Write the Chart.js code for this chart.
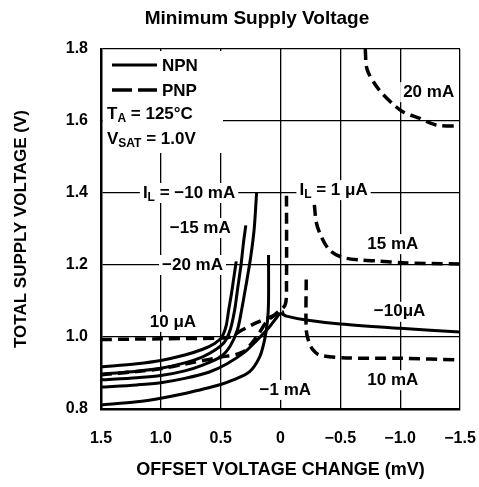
<!DOCTYPE html>
<html lang="en">
<head>
<meta charset="UTF-8">
<title>Minimum Supply Voltage</title>
<script src="https://cdn.jsdelivr.net/npm/chart.js"></script>
<style>
  html, body { margin: 0; padding: 0; background: #fff; }
  #wrap { width: 479px; height: 487px; }
</style>
</head>
<body>
<div id="wrap"><canvas id="supplyChart" width="479" height="487"></canvas></div>
<script>
const chartTitle = 'Minimum Supply Voltage';

// axis ticks
const xTickValues = [1.5, 1.0, 0.5, 0, -0.5, -1.0, -1.5];
const xTickLabels = ['1.5', '1.0', '0.5', '0', '\u22120.5', '\u22121.0', '\u22121.5'];
const yTickValues = [0.8, 1.0, 1.2, 1.4, 1.6, 1.8];
const yTickLabels = ['0.8', '1.0', '1.2', '1.4', '1.6', '1.8'];

// NPN curves (solid), [offset mV, supply V]
const npnMinus20mA = [[1.5,0.917],[1.2,0.926],[1.0,0.935],[0.8,0.95],[0.65,0.966],[0.55,0.982],[0.49,1.0],[0.455,1.03],[0.433,1.075],[0.41,1.12],[0.39,1.165],[0.37,1.21]];
const npnMinus15mA = [[1.5,0.897],[1.2,0.905],[1.0,0.913],[0.8,0.928],[0.65,0.945],[0.55,0.963],[0.47,0.985],[0.42,1.02],[0.383,1.075],[0.36,1.13],[0.33,1.2],[0.31,1.26],[0.29,1.31]];
const npnMinus10mA = [[1.5,0.881],[1.2,0.887],[1.0,0.893],[0.8,0.906],[0.65,0.922],[0.5,0.945],[0.42,0.975],[0.36,1.02],[0.325,1.075],[0.29,1.14],[0.25,1.22],[0.22,1.3],[0.2,1.4]];
const npnMinus1mA = [[1.5,0.811],[1.2,0.82],[1.0,0.83],[0.8,0.843],[0.675,0.853],[0.5,0.868],[0.4,0.88],[0.26,0.903],[0.175,0.944],[0.133,0.992],[0.108,1.047],[0.1,1.1],[0.1,1.228]];
const npnMinus10uA = [[1.5,0.861],[1.2,0.867],[1.0,0.873],[0.8,0.885],[0.6,0.902],[0.45,0.925],[0.3,0.958],[0.2,0.99],[0.1,1.025],[0.03,1.055],[0.0,1.065],[-0.05,1.058],[-0.2,1.048],[-0.5,1.036],[-1.0,1.024],[-1.5,1.014]];

// PNP curves (dashed)
const pnp1uA = [[1.5,0.895],[1.2,0.904],[1.0,0.912],[0.8,0.925],[0.5,0.944],[0.317,0.958],[0.2,1.0],[0.117,1.042],[0.02,1.07],[-0.04,1.09],[-0.05,1.15],[-0.05,1.4]];
const pnp10uA = [[1.5,0.993],[1.0,0.995],[0.5,0.997],[0.425,1.0],[0.317,1.02],[0.2,1.04],[0.05,1.06],[-0.03,1.07]];
const pnp10mA = [[-0.215,1.16],[-0.215,1.02],[-0.24,0.983],[-0.27,0.965],[-0.325,0.95],[-0.55,0.942],[-1.0,0.941],[-1.5,0.936]];
const pnp15mA = [[-0.283,1.367],[-0.3,1.317],[-0.342,1.278],[-0.408,1.242],[-0.508,1.222],[-0.658,1.214],[-0.825,1.211],[-1.017,1.206],[-1.5,1.203]];
const pnp20mA = [[-0.708,1.8],[-0.725,1.742],[-0.825,1.686],[-0.95,1.644],[-1.025,1.625],[-1.158,1.608],[-1.3,1.589],[-1.5,1.586]];

// curve labels: text pieces and where they sit (data units, left edge)
const curveNotes = [
    { parts: [['I'], ['L', 'sub'], [' = \u221210 mA']], x: 1.15, y: 1.4 },
    { parts: [['\u221215 mA']], x: 0.925, y: 1.303 },
    { parts: [['\u221220 mA']], x: 0.99, y: 1.2 },
    { parts: [['10 \u03bcA']], x: 1.092, y: 1.042 },
    { parts: [['\u22121 mA']], x: 0.175, y: 0.853 },
    { parts: [['I'], ['L', 'sub'], [' = 1 \u03bcA']], x: -0.158, y: 1.408 },
    { parts: [['20 mA']], x: -1.025, y: 1.68 },
    { parts: [['15 mA']], x: -0.725, y: 1.258 },
    { parts: [['\u221210\u03bcA']], x: -0.78, y: 1.07 },
    { parts: [['10 mA']], x: -0.725, y: 0.88 }
];

const FONT = '"Liberation Sans", Arial, sans-serif';

function tickText(values, labels, v) {
    for (let i = 0; i < values.length; i++) {
        if (Math.abs(values[i] - v) < 1e-6) return labels[i];
    }
    return '';
}

function toPoints(pairs) {
    return pairs.map(p => ({ x: p[0], y: p[1] }));
}

function partsWidth(ctx, parts, size) {
    let w = 0;
    parts.forEach(p => {
        ctx.font = 'bold ' + (p[1] === 'sub' ? Math.round(size * 0.72) : size) + 'px ' + FONT;
        w += ctx.measureText(p[0]).width;
    });
    return w;
}

function drawParts(ctx, parts, x, y, size) {
    ctx.textBaseline = 'middle';
    ctx.textAlign = 'left';
    ctx.fillStyle = '#000';
    parts.forEach(p => {
        const sub = p[1] === 'sub';
        ctx.font = 'bold ' + (sub ? Math.round(size * 0.72) : size) + 'px ' + FONT;
        ctx.fillText(p[0], x, sub ? y + 5 : y);
        x += ctx.measureText(p[0]).width;
    });
}

const notesPlugin = {
    id: 'notes',
    beforeDatasetsDraw(chart) {
        const ctx = chart.ctx;
        const area = chart.chartArea;
        const xs = chart.scales.x, ys = chart.scales.y;
        ctx.save();
        ctx.fillStyle = '#fff';
        // legend box clears the grid
        ctx.fillRect(area.left + 2, area.top + 2, 120, 102);
        curveNotes.forEach(n => {
            const px = xs.getPixelForValue(n.x);
            const py = ys.getPixelForValue(n.y);
            const w = partsWidth(ctx, n.parts, 17);
            ctx.fillRect(px - 3, py - 10, w + 6, 20);
        });
        ctx.restore();
    },
    afterDatasetsDraw(chart) {
        const ctx = chart.ctx;
        const area = chart.chartArea;
        const xs = chart.scales.x, ys = chart.scales.y;
        ctx.save();
        curveNotes.forEach(n => {
            drawParts(ctx, n.parts, xs.getPixelForValue(n.x), ys.getPixelForValue(n.y), 17);
        });

        // legend
        const lx = area.left + 11, ty = area.top;
        ctx.strokeStyle = '#000';
        ctx.lineWidth = 3;
        ctx.beginPath();
        ctx.moveTo(lx, ty + 16);
        ctx.lineTo(lx + 45, ty + 16);
        ctx.stroke();
        ctx.lineWidth = 3.5;
        ctx.setLineDash([20, 6]);
        ctx.beginPath();
        ctx.moveTo(lx, ty + 41);
        ctx.lineTo(lx + 45, ty + 41);
        ctx.stroke();
        ctx.setLineDash([]);
        drawParts(ctx, [['NPN']], lx + 50, ty + 17, 17);
        drawParts(ctx, [['PNP']], lx + 50, ty + 42, 17);
        drawParts(ctx, [['T'], ['A', 'sub'], [' = 125\u00b0C']], area.left + 6, ty + 65, 17);
        drawParts(ctx, [['V'], ['SAT', 'sub'], [' = 1.0V']], area.left + 6, ty + 90, 17);

        // heading, centred a little left of the plot centre like the original
        ctx.font = 'bold 19px ' + FONT;
        ctx.textAlign = 'center';
        ctx.textBaseline = 'middle';
        ctx.fillText(chartTitle, 257, 19);
        ctx.restore();
    }
};

function makeSet(label, pairs, dashed) {
    return {
        label: label,
        data: toPoints(pairs),
        borderColor: '#000',
        borderWidth: dashed ? 3.5 : 3,
        borderDash: dashed ? [11, 6] : [],
        borderCapStyle: 'butt',
        pointRadius: 0,
        tension: 0.3,
        fill: false
    };
}

const ctx = document.getElementById('supplyChart').getContext('2d');
new Chart(ctx, {
    type: 'line',
    data: {
        datasets: [
            makeSet('NPN -20 mA', npnMinus20mA, false),
            makeSet('NPN -15 mA', npnMinus15mA, false),
            makeSet('NPN -10 mA', npnMinus10mA, false),
            makeSet('NPN -1 mA', npnMinus1mA, false),
            makeSet('NPN -10 uA', npnMinus10uA, false),
            makeSet('PNP 1 uA', pnp1uA, true),
            makeSet('PNP 10 uA', pnp10uA, true),
            makeSet('PNP 10 mA', pnp10mA, true),
            makeSet('PNP 15 mA', pnp15mA, true),
            makeSet('PNP 20 mA', pnp20mA, true)
        ]
    },
    options: {
        responsive: false,
        animation: false,
        devicePixelRatio: 1,
        layout: { padding: { top: 49, right: 19, bottom: 0, left: 0 } },
        plugins: {
            legend: { display: false },
            tooltip: { enabled: false },
            title: { display: false }
        },
        scales: {
            x: {
                type: 'linear',
                reverse: true,
                min: -1.5,
                max: 1.5,
                afterFit: s => { s.height = 78; s.paddingLeft = 0; s.paddingRight = 0; },
                ticks: {
                    stepSize: 0.5,
                    autoSkip: false,
                    maxRotation: 0,
                    padding: 20,
                    color: '#000',
                    font: { family: FONT, size: 16, weight: 'bold' },
                    callback: v => tickText(xTickValues, xTickLabels, v)
                },
                grid: { color: '#000', lineWidth: 1.3, drawTicks: false },
                border: { color: '#000', width: 2.5 },
                title: {
                    display: true,
                    text: 'OFFSET VOLTAGE CHANGE (mV)',
                    color: '#000',
                    font: { family: FONT, size: 18, weight: 'bold' },
                    padding: { top: 0, bottom: 6 }
                }
            },
            y: {
                type: 'linear',
                min: 0.8,
                max: 1.8,
                afterFit: s => { s.width = 101; s.paddingTop = 0; s.paddingBottom = 0; },
                ticks: {
                    stepSize: 0.2,
                    padding: 13,
                    color: '#000',
                    font: { family: FONT, size: 16, weight: 'bold' },
                    callback: v => tickText(yTickValues, yTickLabels, v)
                },
                grid: { color: '#000', lineWidth: 1.3, drawTicks: false },
                border: { color: '#000', width: 2.5 },
                title: {
                    display: true,
                    text: 'TOTAL SUPPLY VOLTAGE (V)',
                    color: '#000',
                    font: { family: FONT, size: 17, weight: 'bold' },
                    padding: { top: 11, bottom: 0 }
                }
            }
        }
    },
    plugins: [notesPlugin]
});
</script>
</body>
</html>
